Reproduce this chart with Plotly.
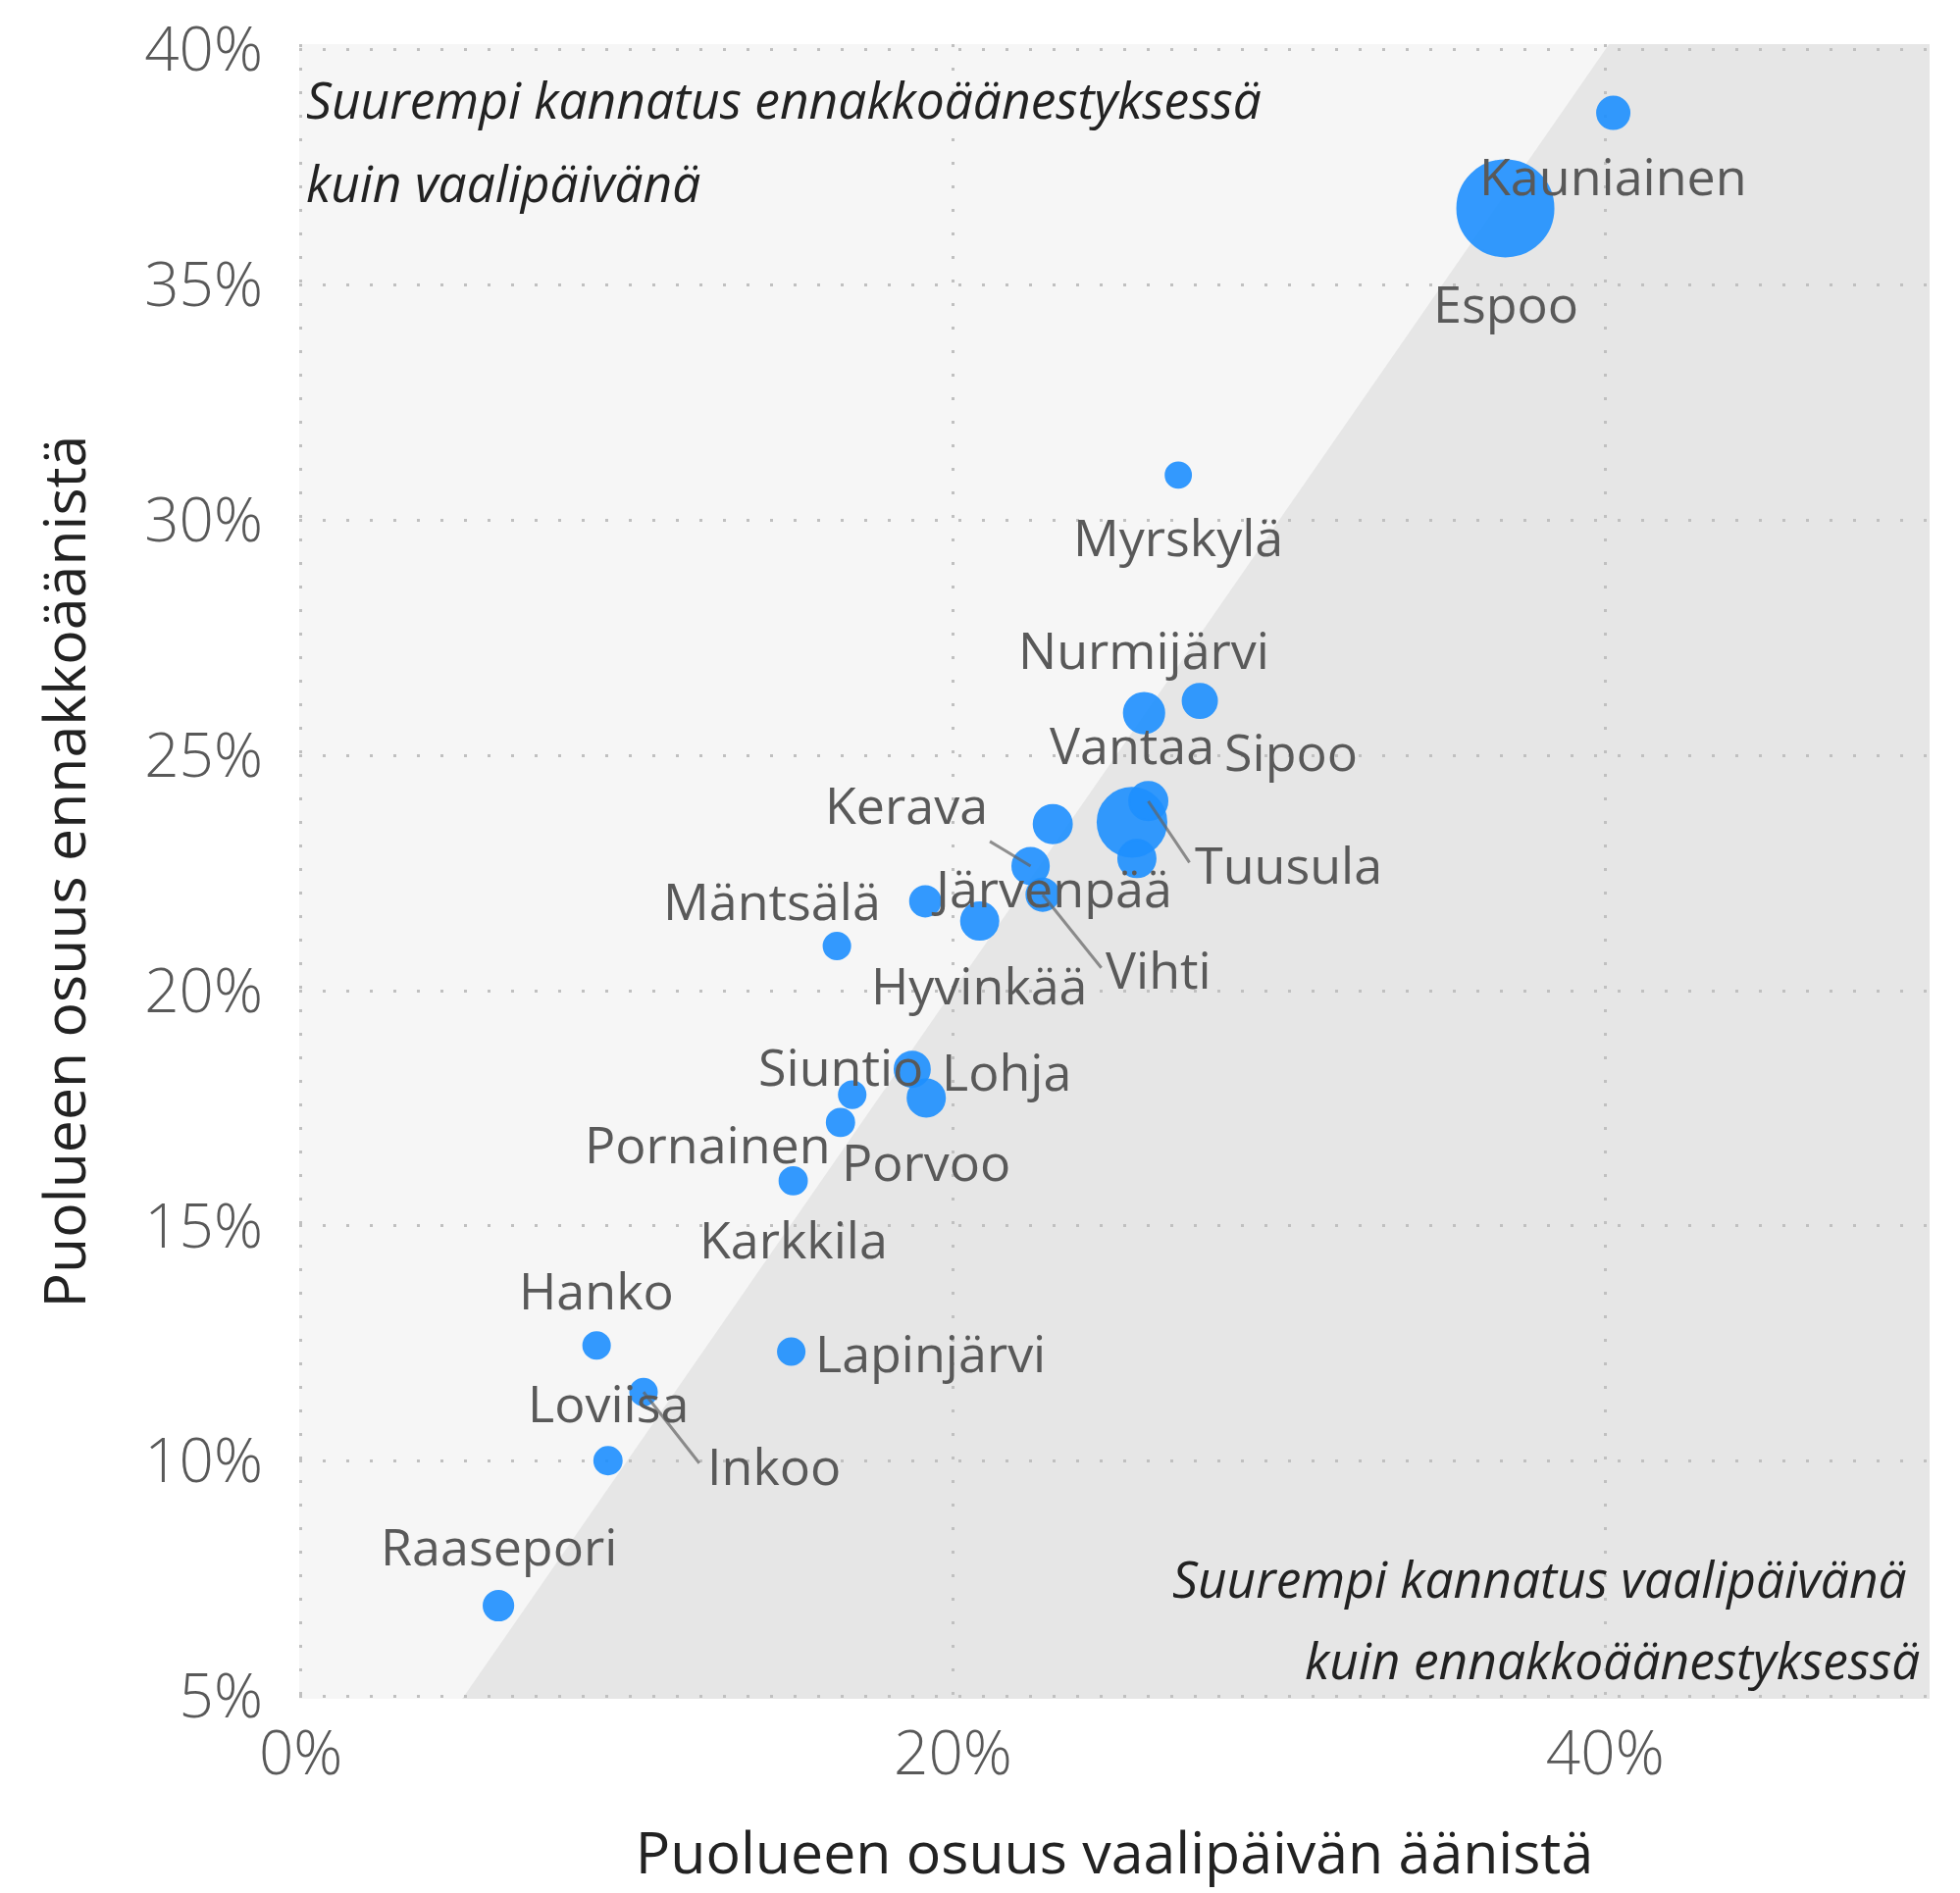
import plotly.graph_objects as go

# kunnat (Uusimaa) ja puolueen osuudet, %
kunnat = ["Kauniainen", "Espoo", "Myrskylä", "Nurmijärvi", "Sipoo", "Vantaa", "Tuusula",
          "Järvenpää", "Kirkkonummi", "Kerava", "Vihti", "Hyvinkää", "Mäntsälä", "Askola",
          "Lohja", "Porvoo", "Siuntio", "Pornainen", "Karkkila", "Lapinjärvi", "Hanko",
          "Inkoo", "Loviisa", "Raasepori"]
vaalipaiva = [40.25, 36.94, 26.91, 25.86, 27.57, 25.49, 25.99, 25.64, 23.06, 22.38, 22.75, 20.82,
              19.15, 16.44, 18.75, 19.18, 16.91, 16.55, 15.10, 15.04, 9.07, 10.51, 9.42, 6.06]
ennakko = [38.66, 36.63, 30.96, 25.90, 26.16, 23.58, 24.03, 22.81, 23.54, 22.65, 22.04, 21.48,
           21.90, 20.95, 18.33, 17.72, 17.79, 17.20, 15.96, 12.33, 12.46, 11.47, 10.01, 6.93]
# marker area ~ puolueen aanimaara (arvioitu kuvasta)
aanet = [4900, 43200, 3000, 7600, 5500, 22100, 6800, 6500, 6800, 6200, 4900, 6500,
         4300, 3300, 5800, 6500, 3300, 3500, 3500, 3300, 3300, 3300, 3500, 4100]

y_ticks = [5, 10, 15, 20, 25, 30, 35, 40]
x_ticks = [0, 20, 40]

# label placement in px relative to the point (dx right, dy down)
label_pos = {
    "Kauniainen": (0, 67), "Espoo": (0, 100), "Myrskylä": (0, 66), "Nurmijärvi": (0, -62),
    "Sipoo": (93, 55), "Vantaa": (0, -76), "Tuusula": (143, 68), "Järvenpää": (-87, 33),
    "Kerava": (-127, -59), "Vihti": (118, 79), "Hyvinkää": (0, 68), "Mäntsälä": (-156, 3),
    "Lohja": (96, 5), "Porvoo": (0, 68), "Siuntio": (-12, -26), "Pornainen": (-135, 25),
    "Karkkila": (0, 63), "Lapinjärvi": (142, 4), "Hanko": (0, -53), "Inkoo": (133, 78),
    "Loviisa": (0, -56), "Raasepori": (0, -58),
}
LIFT = 4  # text box centre sits a bit below the visual centre of the glyphs
# leader segments (end point in px relative to the point)
leaders = {"Tuusula": (43, 64), "Kerava": (-43, -26), "Vihti": (61, 76), "Inkoo": (58, 74)}

FONT = "Open Sans"
x_range = [-0.05, 49.95]
y_range = [4.95, 40.12]

fig = go.Figure()

fig.add_trace(go.Scatter(
    x=vaalipaiva, y=ennakko, mode="markers", text=kunnat,
    hovertemplate="%{text}<br>vaalipäivä %{x:.1f}%<br>ennakko %{y:.1f}%<extra></extra>",
    marker=dict(size=aanet, sizemode="area", sizeref=9,
                color="rgb(30,144,255)", opacity=0.9,
                line=dict(color="rgb(30,144,255)", width=2)),
    showlegend=False,
))

# shaded half: below the line y = x
lo, hi = y_range
fig.add_shape(type="path", xref="x", yref="y", layer="below",
              path=f"M {lo},{lo} L {hi},{hi} L {x_range[1]},{hi} L {x_range[1]},{lo} Z",
              fillcolor="#e6e6e6", line=dict(width=0))

annotations = []
for name, xv, yv in zip(kunnat, vaalipaiva, ennakko):
    if name in leaders:
        lx, ly = leaders[name]
        annotations.append(dict(x=xv, y=yv, xref="x", yref="y", text="", showarrow=True,
                                ax=lx, ay=ly, arrowhead=0, arrowwidth=3, standoff=0,
                                arrowcolor="rgba(100,100,100,0.7)"))
    if name in label_pos:
        dx, dy = label_pos[name]
        annotations.append(dict(x=xv, y=yv, xref="x", yref="y", text=name, showarrow=False,
                                xshift=dx, yshift=-dy + LIFT, xanchor="center", yanchor="middle",
                                font=dict(family=FONT, size=52, color="#595959")))

corner = dict(family=FONT, size=51.5, color="#222222", style="italic")
annotations += [
    dict(x=0, y=0.9668, xref="x domain", yref="y domain", xanchor="left", yanchor="middle",
         xshift=5, text="Suurempi kannatus ennakkoäänestyksessä", showarrow=False, font=corner),
    dict(x=0, y=0.9164, xref="x domain", yref="y domain", xanchor="left", yanchor="middle",
         xshift=5, text="kuin vaalipäivänä", showarrow=False, font=corner),
    dict(x=0.9875, y=0.0732, xref="x domain", yref="y domain", xanchor="right", yanchor="middle",
         text="Suurempi kannatus vaalipäivänä", showarrow=False, font=corner),
    dict(x=0.995, y=0.024, xref="x domain", yref="y domain", xanchor="right", yanchor="middle",
         text="kuin ennakkoäänestyksessä", showarrow=False, font=corner),
]

grid = dict(showgrid=True, gridcolor="#c0c0c0", gridwidth=3, griddash="3px,21px",
            zeroline=False, showline=False, ticks="", ticklabeloverflow="allow",
            automargin=False,
            tickfont=dict(family=FONT, size=62, color="#595959", weight=350))

fig.update_layout(
    width=1998, height=1930,
    # the page body adds an 8px offset, so the margins are trimmed by that much
    margin=dict(l=297, r=39, t=37, b=206),
    paper_bgcolor="white", plot_bgcolor="#f6f6f6",
    annotations=annotations,
    xaxis=dict(range=x_range, tickvals=x_ticks, ticktext=[f"{v}%" for v in x_ticks],
               ticklabelstandoff=14,
               title=dict(text="Puolueen osuus vaalipäivän äänistä", standoff=42,
                          font=dict(family=FONT, size=59, color="#222222")), **grid),
    yaxis=dict(range=y_range, tickvals=y_ticks, ticktext=[f"{v}%" for v in y_ticks],
               ticklabelstandoff=36,
               title=dict(text="Puolueen osuus ennakkoäänistä", standoff=40,
                          font=dict(family=FONT, size=59, color="#222222")), **grid),
)

fig.write_html("out.html")
